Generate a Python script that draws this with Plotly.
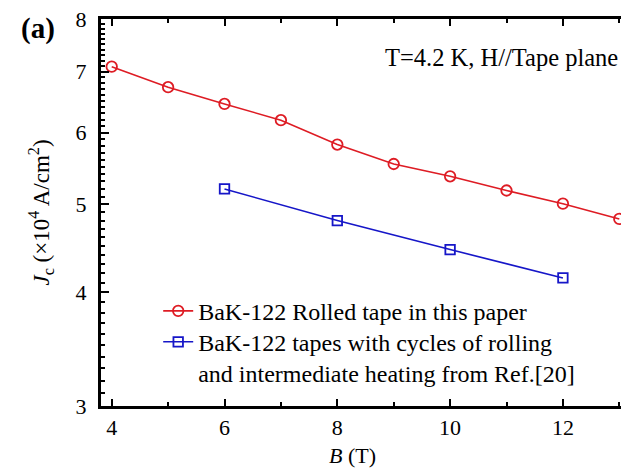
import numpy as np
import plotly.graph_objects as go

# Critical current density vs field, T = 4.2 K, H parallel to tape plane
b_rolled = [4, 5, 6, 7, 8, 9, 10, 11, 12, 13]
jc_rolled = [7.09, 6.73, 6.45, 6.19, 5.82, 5.54, 5.37, 5.18, 5.01, 4.82]

b_ref = [6, 8, 10, 12]
jc_ref = [5.20, 4.80, 4.46, 4.15]

name_rolled = "BaK-122 Rolled tape in this paper"
name_ref = "BaK-122 tapes with cycles of rolling<br>and intermediate heating from Ref.[20]"

y_major = [3, 4, 5, 6, 7, 8]
x_major = [4, 6, 8, 10, 12]

RED = "rgb(222,28,36)"
BLUE = "rgb(22,22,200)"
FONT = "Liberation Serif"

fig = go.Figure()
fig.add_trace(go.Scatter(
    x=b_rolled, y=jc_rolled, mode="lines+markers", name=name_rolled,
    line=dict(color=RED, width=1.6),
    marker=dict(symbol="circle-open", size=10.5, color=RED, line=dict(width=1.8, color=RED)),
    cliponaxis=True, legend="legend",
))
fig.add_trace(go.Scatter(
    x=b_ref, y=jc_ref, mode="lines+markers", name=name_ref,
    line=dict(color=BLUE, width=1.6),
    marker=dict(symbol="square-open", size=9.5, color=BLUE, line=dict(width=1.8, color=BLUE)),
    cliponaxis=True, legend="legend2",
))

y_minor = [round(v, 1) for v in np.arange(3.0, 8.0001, 0.1) if abs(v - round(v)) > 1e-6]
x_minor = [5, 7, 9, 11, 13]

legend_style = dict(
    xanchor="left", yanchor="top", bgcolor="rgba(0,0,0,0)",
    font=dict(size=24, family=FONT), valign="top",
)

fig.update_layout(
    width=621, height=469,
    margin=dict(l=101, r=0, t=19, b=63),
    paper_bgcolor="white", plot_bgcolor="white",
    font=dict(family=FONT, size=22, color="black"),
    showlegend=True,
    legend=dict(x=0.11, y=0.303, **legend_style),
    legend2=dict(x=0.11, y=0.223, **legend_style),
    xaxis=dict(
        range=[3.81, 13.03], showgrid=False, zeroline=False,
        showline=True, linewidth=3, linecolor="black", mirror="ticks",
        ticks="inside", ticklen=7, tickwidth=2, tickcolor="black",
        tickvals=x_major, ticktext=[str(v) for v in x_major],
        minor=dict(tickvals=x_minor, ticks="inside", ticklen=4, tickwidth=2, tickcolor="black"),
        tickfont=dict(size=22, family=FONT),
    ),
    yaxis=dict(
        type="log", range=[np.log10(3), np.log10(8)], showgrid=False, zeroline=False,
        showline=True, linewidth=3, linecolor="black", mirror=False,
        ticks="inside", ticklen=8, tickwidth=2, tickcolor="black",
        tickvals=y_major, ticktext=[str(v) for v in y_major],
        minor=dict(tickvals=y_minor, ticks="inside", ticklen=4, tickwidth=1.5, tickcolor="black"),
        tickfont=dict(size=22, family=FONT), ticklabelstandoff=7,
        title=dict(text="<i>J</i><sub>c</sub> (×10<sup>4</sup> A/cm<sup>2</sup>)",
                   font=dict(size=23, family=FONT), standoff=20),
    ),
    annotations=[
        dict(text="<b>(a)</b>", xref="paper", yref="paper", x=-0.121, y=0.975,
             xanchor="center", yanchor="middle", showarrow=False,
             font=dict(size=29, family=FONT)),
        dict(text="T=4.2 K, H//Tape plane", xref="paper", yref="paper",
             x=0.998, y=0.9, xanchor="right", yanchor="middle", showarrow=False,
             font=dict(size=24.5, family=FONT)),
        dict(text="<i>B</i> (T)", xref="paper", yref="paper",
             x=0.483, y=-0.128, xanchor="center", yanchor="middle", showarrow=False,
             font=dict(size=22, family=FONT)),
    ],
)

fig.write_html("out.html")
